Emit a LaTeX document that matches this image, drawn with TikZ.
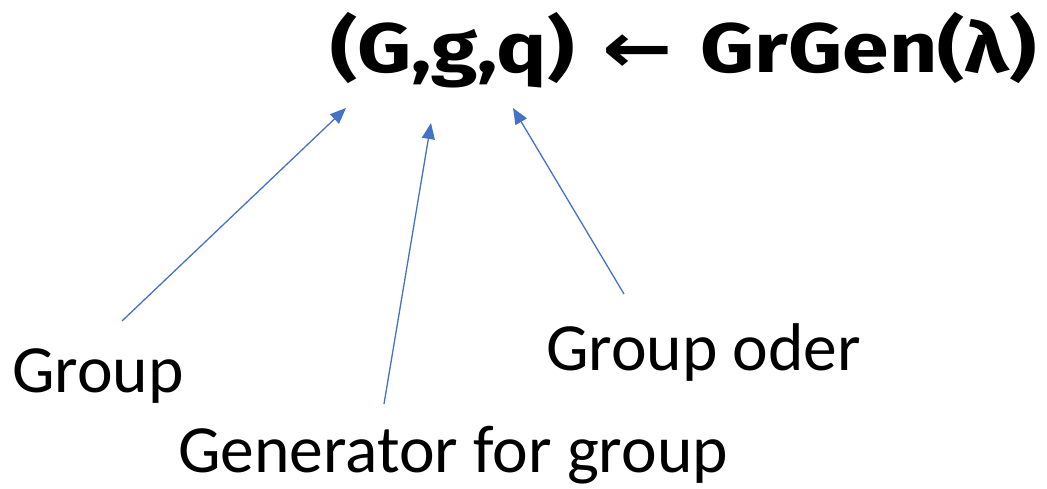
\documentclass[tikz,border=0pt]{standalone}
\usepackage{fontspec}
\setmainfont{Carlito}
\newfontfamily\titlefont[FakeStretch=1.2]{Fira Sans}
\newfontfamily\symfont[FakeStretch=1.2]{DejaVu Sans}
\usetikzlibrary{arrows.meta}
\definecolor{arrblue}{HTML}{4472C4}
\tikzset{
  lbl/.style={inner sep=0pt, anchor=base west, font=\fontsize{67.5}{72}\selectfont},
  ttl/.style={inner sep=0pt, anchor=base west, font=\titlefont\bfseries\fontsize{70}{76}\selectfont},
  conn/.style={draw=arrblue, line width=1.3pt, -{Triangle[length=16pt,width=13pt]}}
}
\begin{document}
\begin{tikzpicture}[x=1pt,y=-1pt]
\useasboundingbox (0,0) rectangle (1047,488);
\node[ttl] (title) at (330,72) {(G,g,q)\hspace{0.4em}{\symfont ←}\hspace{0.4em}GrGen(λ)};
\coordinate (tG) at (346,108);
\coordinate (tg) at (431,123);
\coordinate (tq) at (513,108);
\node[lbl] (group) at (12,392) {Group};
\node[lbl] (gen) at (178,472) {Generator for group};
\node[lbl] (order) at (546,370) {Group oder};
\coordinate (sG) at (122,321);
\coordinate (sg) at (384,404);
\coordinate (sq) at (624,294);
\draw[conn] (sG) -- (tG);
\draw[conn] (sg) -- (tg);
\draw[conn] (sq) -- (tq);
\end{tikzpicture}
\end{document}
